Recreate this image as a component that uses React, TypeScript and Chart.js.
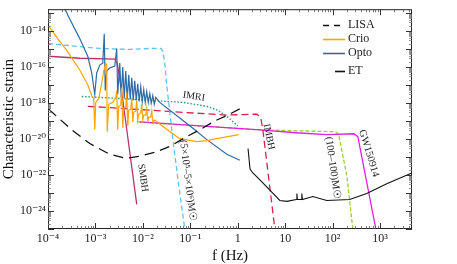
import React, { useEffect, useRef } from 'react';
import { Chart, registerables } from 'chart.js';

Chart.register(...registerables);

const SERIF = '"Liberation Serif", "DejaVu Serif", serif';

// ---- data (frequency in Hz, characteristic strain) ----
const lisaF = [1.035e-4, 3.16e-4, 7.6e-4, 2.0e-3, 4.36e-3, 8.6e-3, 1.78e-2, 3.7e-2, 7.66e-2, 0.158, 0.329, 0.618, 1.16];
const lisaH = [4.54e-19, 3.25e-20, 5.61e-21, 1.41e-21, 8.55e-22, 1.1e-21, 1.82e-21, 3.86e-21, 1.19e-20, 3.25e-20, 1.01e-19, 2.14e-19, 5.14e-19];

const crioF = [1.0e-4, 1.6e-4, 2.48e-4, 4.67e-4, 6.89e-4, 8.36e-4, 9.21e-4, 9.67e-4, 1.015e-3, 1.175e-3, 1.36e-3, 1.5e-3, 1.65e-3, 1.73e-3, 1.77e-3, 1.91e-3, 2.32e-3, 2.68e-3, 2.81e-3, 2.95e-3, 3.1e-3, 3.42e-3, 3.59e-3, 3.77e-3, 3.95e-3, 4.36e-3, 4.57e-3, 4.8e-3, 5.04e-3, 5.56e-3, 5.83e-3, 6.12e-3, 6.43e-3, 7.08e-3, 7.43e-3, 7.8e-3, 8.19e-3, 9.03e-3, 9.48e-3, 9.95e-3, 1.044e-2, 1.15e-2, 1.208e-2, 1.27e-2, 1.33e-2, 1.47e-2, 1.54e-2, 1.62e-2, 1.78e-2, 2.27e-2, 4.28e-2, 6.0e-2, 0.137, 0.223, 0.362, 1.05];
const crioH = [2.2e-14, 3.8e-15, 8.43e-16, 6.87e-17, 1.04e-17, 2.63e-18, 1.8e-18, 3.25e-20, 1.09e-18, 1.8e-18, 1.34e-17, 6.05e-17, 1.65e-16, 1.29e-16, 2.53e-20, 8.5e-19, 1.09e-18, 2.04e-18, 4.92e-18, 3.25e-20, 6.6e-19, 7.5e-19, 7.18e-18, 4.18e-20, 5.14e-19, 5.83e-19, 3.83e-18, 5.37e-20, 4.0e-19, 4.54e-19, 2.04e-18, 8.87e-20, 3.11e-19, 3.53e-19, 1.4e-18, 1.14e-19, 2.42e-19, 2.75e-19, 8.5e-19, 1.14e-19, 2.14e-19, 2.14e-19, 5.14e-19, 1.01e-19, 1.66e-19, 1.66e-19, 3.53e-19, 8.87e-20, 1.14e-19, 6.9e-20, 1.97e-20, 1.05e-20, 7.21e-21, 8.18e-21, 1.05e-20, 1.74e-20];

const optoF = [1.95e-4, 2.87e-4, 4.67e-4, 6.89e-4, 8.36e-4, 9.67e-4, 1.064e-3, 1.233e-3, 1.426e-3, 1.535e-3, 1.61e-3, 1.73e-3, 2.0e-3, 2.56e-3, 2.81e-3, 2.95e-3, 3.26e-3, 3.5e-3, 3.77e-3, 4.05e-3, 4.36e-3, 4.69e-3, 5.04e-3, 5.42e-3, 5.83e-3, 6.27e-3, 6.75e-3, 7.26e-3, 7.8e-3, 8.39e-3, 9.03e-3, 9.71e-3, 1.044e-2, 1.124e-2, 1.208e-2, 1.3e-2, 1.4e-2, 1.5e-2, 1.62e-2, 1.74e-2, 1.87e-2, 2.27e-2, 6.0e-2, 0.1245, 0.223, 0.589, 1.107];
const optoH = [3.95e-13, 4.68e-14, 3.8e-15, 3.98e-16, 4.71e-17, 2.98e-18, 4.71e-17, 1.29e-16, 1.65e-16, 7.13e-15, 4.92e-18, 6.05e-17, 8.83e-17, 1.13e-16, 1.08e-15, 2.98e-18, 1.65e-16, 2.04e-18, 1.0e-16, 1.8e-18, 6.05e-17, 1.59e-18, 3.66e-17, 1.59e-18, 2.51e-17, 1.4e-18, 1.73e-17, 1.4e-18, 1.19e-17, 1.24e-18, 8.13e-18, 1.24e-18, 5.58e-18, 1.09e-18, 4.35e-18, 1.09e-18, 3.38e-18, 9.64e-19, 2.63e-18, 8.5e-19, 2.04e-18, 1.09e-18, 1.47e-19, 3.25e-20, 9.27e-21, 1.41e-21, 6.65e-22];

const etF = [1.65, 1.82, 2.09, 3.39, 7.73, 10.9, 17.2, 17.7, 18.1, 22.0, 22.5, 23.1, 38.4, 75.5, 229, 525, 1387, 4680];
const etH = [3.0e-21, 2.15e-22, 1.3e-22, 3.71e-23, 3.87e-24, 3.42e-24, 4.4e-24, 9.3e-24, 4.4e-24, 4.4e-24, 9.3e-24, 4.4e-24, 6.41e-24, 3.87e-24, 4.4e-24, 9.3e-24, 3.27e-23, 1.3e-22];

const mbhF = [1.0e-4, 1.233e-3, 5.3e-3, 1.4e-2, 2.39e-2, 2.63e-2, 2.9e-2, 3.15e-2, 4.34e-2, 5.72e-2, 7.66e-2, 8.43e-2];
const mbhH = [2.03e-15, 1.08e-15, 9.57e-16, 1.08e-15, 1.08e-15, 7.45e-16, 1.65e-16, 1.34e-17, 7.21e-21, 2.55e-23, 1.0e-25, 1.38e-26];

const smbhF = [1.0e-4, 4.67e-4, 2.56e-3, 2.88e-3, 3.1e-3, 3.59e-3, 4.36e-3, 7.43e-3];
const smbhH = [3.98e-16, 3.09e-16, 2.73e-16, 1.65e-16, 4.71e-17, 3.83e-18, 8.87e-20, 2.35e-24];

const imriF = [5.16e-4, 3.26e-3, 1.4e-2, 6.95e-2, 0.223, 0.38, 0.618, 1.0];
const imriH = [2.32e-18, 1.8e-18, 1.4e-18, 1.09e-18, 6.6e-19, 4.0e-19, 1.66e-19, 5.37e-20];

const imbhF = [6.9e-4, 1.4e-2, 0.589, 2.53, 3.07, 3.39, 6.07, 6.69];
const imbhH = [6.6e-19, 4.0e-19, 2.14e-19, 2.42e-19, 1.47e-19, 3.25e-20, 1.0e-25, 1.38e-26];

const gwF = [8.6e-3, 2.92, 16.7, 75.5, 281, 341, 818, 902];
const gwH = [8.87e-20, 3.25e-20, 2.23e-20, 1.74e-20, 1.97e-20, 1.35e-20, 1.0e-25, 1.38e-26];

const bbhF = [7.8e-3, 2.92, 117, 135, 200, 267, 295];
const bbhH = [8.87e-20, 3.25e-20, 2.53e-20, 1.74e-20, 8.93e-23, 1.0e-25, 1.38e-26];

// axis ranges and labels
const X_MIN = 1e-4;
const X_MAX = 4730;
const Y_MIN = 1.0e-25;
const Y_MAX = 1.64e-13;
const X_LABEL_EXPS = [-4, -3, -2, -1, 0, 1, 2, 3];
const Y_LABEL_EXPS = [-24, -22, -20, -18, -16, -14];

// annotations: text, anchor (f, h), rotation in degrees, font size
const notes = [
  { text: 'IMRI', f: 0.119, h: 2.3e-18, rot: 8, size: 10 },
  { text: 'SMBH', f: 1.0e-2, h: 6.95e-23, rot: 82, size: 10 },
  { text: '(5×10⁵–5×10⁶)M☉', f: 8.85e-2, h: 4.77e-23, rot: 83, size: 10.5 },
  { text: 'IMBH', f: 4.53, h: 1.35e-20, rot: 78, size: 10 },
  { text: '(100–100)M☉', f: 101, h: 2.44e-22, rot: 82, size: 10.5 },
  { text: 'GW150914', f: 582, h: 1.6e-21, rot: 73, size: 10.5 },
];

const SUP: Record<string, string> = { '-': '⁻', '0': '⁰', '1': '¹', '2': '²', '3': '³', '4': '⁴', '5': '⁵', '6': '⁶', '7': '⁷', '8': '⁸', '9': '⁹' };
function powLabel(e: number): string {
  if (e === 0) return '1';
  if (e === 1) return '10';
  return '10' + String(e).split('').map((c) => SUP[c]).join('');
}
function isDecade(v: number): boolean {
  const l = Math.log10(v);
  return Math.abs(l - Math.round(l)) < 1e-6;
}
function logTicks(min: number, max: number): number[] {
  const out: number[] = [];
  const e0 = Math.floor(Math.log10(min));
  const e1 = Math.ceil(Math.log10(max));
  for (let e = e0; e <= e1; e++) {
    for (let m = 1; m <= 9; m++) {
      const v = m * Math.pow(10, e);
      if (v >= min * 0.9999 && v <= max * 1.0001) out.push(v);
    }
  }
  return out;
}
function pts(f: number[], h: number[]) {
  return f.map((v, i) => ({ x: v, y: h[i] }));
}

const legendSpec = [
  { idx: 0, dash: [6, 5], x0: 323, x1: 342, y: 25 },
  { idx: 1, dash: [], x0: 323, x1: 345, y: 39 },
  { idx: 2, dash: [], x0: 323, x1: 345, y: 53 },
  { idx: 3, dash: [], x0: 335, x1: 345, y: 71 },
];

const decor = {
  id: 'decor',
  afterDatasetsDraw(chart: any) {
    const { ctx, chartArea: a, scales } = chart;
    const xs = scales.x;
    const ys = scales.y;
    ctx.save();
    // frame
    ctx.strokeStyle = '#222';
    ctx.lineWidth = 1;
    ctx.setLineDash([]);
    ctx.strokeRect(a.left + 0.5, a.top + 0.5, a.right - a.left - 1, a.bottom - a.top - 1);
    // inward ticks
    for (const t of xs.ticks) {
      const p = Math.round(xs.getPixelForValue(t.value)) + 0.5;
      const major = isDecade(t.value);
      const len = major ? 6 : 3;
      ctx.strokeStyle = major ? '#333' : '#555';
      ctx.lineWidth = major ? 1 : 0.8;
      ctx.beginPath();
      ctx.moveTo(p, a.bottom);
      ctx.lineTo(p, a.bottom - len);
      ctx.moveTo(p, a.top);
      ctx.lineTo(p, a.top + len);
      ctx.stroke();
    }
    for (const t of ys.ticks) {
      const p = Math.round(ys.getPixelForValue(t.value)) + 0.5;
      const major = isDecade(t.value);
      const len = major ? 6 : 3;
      ctx.strokeStyle = major ? '#333' : '#777';
      ctx.lineWidth = major ? 1 : 0.8;
      ctx.beginPath();
      ctx.moveTo(a.left, p);
      ctx.lineTo(a.left + len, p);
      ctx.moveTo(a.right, p);
      ctx.lineTo(a.right - len, p);
      ctx.stroke();
    }
    // annotations
    ctx.fillStyle = '#222';
    ctx.textAlign = 'center';
    ctx.textBaseline = 'middle';
    for (const n of notes) {
      const px = xs.getPixelForValue(n.f);
      const py = ys.getPixelForValue(n.h);
      ctx.save();
      ctx.translate(px, py);
      ctx.rotate((n.rot * Math.PI) / 180);
      ctx.font = `${n.size}px ${SERIF}`;
      ctx.fillText(n.text, 0, 0);
      ctx.restore();
    }
    // legend
    ctx.font = `12px ${SERIF}`;
    ctx.textAlign = 'left';
    ctx.textBaseline = 'middle';
    for (const l of legendSpec) {
      const ds = chart.data.datasets[l.idx];
      ctx.strokeStyle = ds.borderColor;
      ctx.lineWidth = 1.6;
      ctx.setLineDash(l.dash);
      ctx.beginPath();
      ctx.moveTo(l.x0, l.y + 0.5);
      ctx.lineTo(l.x1, l.y + 0.5);
      ctx.stroke();
      ctx.setLineDash([]);
      ctx.fillStyle = '#222';
      ctx.fillText(ds.label, 348, l.y);
    }
    ctx.restore();
  },
};

export default function App() {
  const ref = useRef<HTMLCanvasElement>(null);
  useEffect(() => {
    document.body.style.margin = '0';
    const xTickVals = logTicks(X_MIN, X_MAX);
    const yTickVals = logTicks(Y_MIN, Y_MAX);
    const chart = new Chart(ref.current as HTMLCanvasElement, {
      type: 'line',
      data: {
        datasets: [
          { label: 'LISA', data: pts(lisaF, lisaH), borderColor: '#111111', borderWidth: 1.3, borderDash: [10, 6] },
          { label: 'Crio', data: pts(crioF, crioH), borderColor: '#FFA500', borderWidth: 1.2 },
          { label: 'Opto', data: pts(optoF, optoH), borderColor: '#2F6BA6', borderWidth: 1.2 },
          { label: 'ET', data: pts(etF, etH), borderColor: '#111111', borderWidth: 1.1 },
          { label: '(5×10⁵–5×10⁶)M☉', data: pts(mbhF, mbhH), borderColor: '#62C3EA', borderWidth: 1.3, borderDash: [5, 3] },
          { label: 'SMBH', data: pts(smbhF, smbhH), borderColor: '#B8336A', borderWidth: 1.3 },
          { label: 'IMRI', data: pts(imriF, imriH), borderColor: '#22A06B', borderWidth: 1.4, borderDash: [1.5, 1.8] },
          { label: 'IMBH', data: pts(imbhF, imbhH), borderColor: '#DC1F4E', borderWidth: 1.3, borderDash: [7, 4] },
          { label: 'GW150914', data: pts(gwF, gwH), borderColor: '#E020E0', borderWidth: 1.3 },
          { label: '(100–100)M☉', data: pts(bbhF, bbhH), borderColor: '#9ACD32', borderWidth: 1.3, borderDash: [4, 2] },
        ] as any,
      },
      options: {
        animation: false,
        responsive: false,
        devicePixelRatio: 1,
        layout: { padding: { top: 5, right: 45, left: 0, bottom: 0 } },
        plugins: { legend: { display: false }, tooltip: { enabled: false } },
        elements: { point: { radius: 0 }, line: { tension: 0 } },
        scales: {
          x: {
            type: 'logarithmic',
            min: X_MIN,
            max: X_MAX,
            bounds: 'data',
            grid: { display: false, drawTicks: false },
            border: { display: false },
            afterBuildTicks: (s: any) => {
              s.ticks = xTickVals.map((v) => ({ value: v }));
            },
            afterFit: (s: any) => {
              s.height = 35;
            },
            ticks: {
              autoSkip: false,
              maxRotation: 0,
              padding: 3,
              color: '#222',
              font: { family: SERIF, size: 12 },
              callback: (v: any) => {
                const val = Number(v);
                if (!isDecade(val)) return '';
                const e = Math.round(Math.log10(val));
                return X_LABEL_EXPS.includes(e) ? powLabel(e) : '';
              },
            },
            title: { display: true, text: 'f (Hz)', color: '#111', font: { family: SERIF, size: 15, lineHeight: 1 }, padding: { top: 0, bottom: 0 } },
          },
          y: {
            type: 'logarithmic',
            min: Y_MIN,
            max: Y_MAX,
            bounds: 'data',
            grid: { display: false, drawTicks: false },
            border: { display: false },
            afterBuildTicks: (s: any) => {
              s.ticks = yTickVals.map((v) => ({ value: v }));
            },
            afterFit: (s: any) => {
              s.width = 48;
            },
            ticks: {
              autoSkip: false,
              padding: 2,
              color: '#222',
              font: { family: SERIF, size: 12 },
              callback: (v: any) => {
                const val = Number(v);
                if (!isDecade(val)) return '';
                const e = Math.round(Math.log10(val));
                return Y_LABEL_EXPS.includes(e) ? powLabel(e) : '';
              },
            },
            title: { display: true, text: 'Characteristic strain', color: '#111', font: { family: SERIF, size: 15, lineHeight: 1 }, padding: { top: 2, bottom: 0 } },
          },
        },
      } as any,
      plugins: [decor],
    });
    return () => chart.destroy();
  }, []);
  return (
    <div style={{ position: 'absolute', left: 0, top: 0, width: 457, height: 264, background: '#fff' }}>
      <canvas ref={ref} width={457} height={264} style={{ display: 'block', width: 457, height: 264 }} />
    </div>
  );
}
